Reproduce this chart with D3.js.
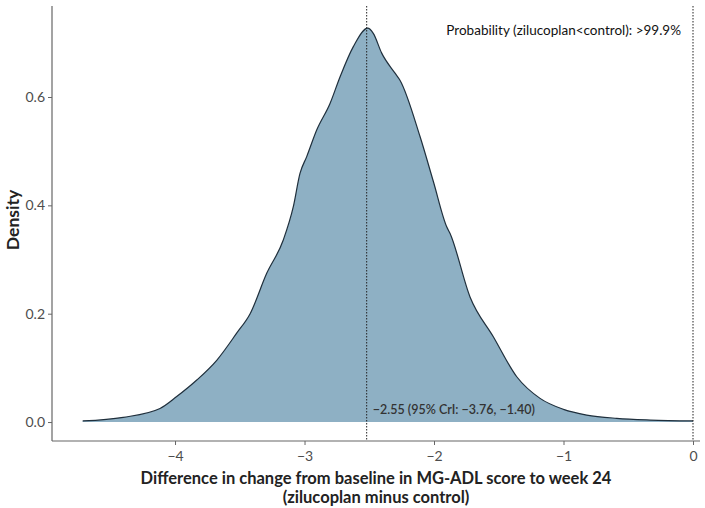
<!DOCTYPE html>
<html>
<head>
<meta charset="utf-8">
<script src="https://cdn.jsdelivr.net/npm/d3@7"></script>
<style>
  body { margin: 0; background: #fff; }
  text { font-family: Lato, "Open Sans", sans-serif; }
</style>
</head>
<body>
<svg width="705" height="508"></svg>
<script>
// density curve
const diffVals = [-4.713, -4.40, -4.116, -3.987, -3.832, -3.678, -3.524, -3.42, -3.292, -3.164, -3.087,
  -3.035, -2.983, -2.906, -2.803, -2.726, -2.623, -2.512, -2.469, -2.404, -2.301, -2.263, -2.108,
  -2.005, -1.902, -1.876, -1.722, -1.542, -1.361, -1.181, -1.0, -0.821, -0.589, -0.33, 0]
const densVals = [0.002, 0.0087, 0.025, 0.047, 0.0775, 0.114, 0.164, 0.2, 0.2745, 0.336, 0.397,
  0.459, 0.49, 0.539, 0.588, 0.637, 0.693, 0.727, 0.7175, 0.681, 0.644, 0.631, 0.527,
  0.444, 0.3605, 0.348, 0.231, 0.1575, 0.0836, 0.0437, 0.0234, 0.0129, 0.0068, 0.0037, 0.002]
const xTicks = [-4, -3, -2, -1, 0]
const yTicks = [0, 0.2, 0.4, 0.6]
const vLines = [-2.52, 0]
const medianLabel = "\u22122.55 (95% CrI: \u22123.76, \u22121.40)"
const probLabel = "Probability (zilucoplan<control): >99.9%"

const svg = d3.select("svg")
const pLeft = 52, pRight = 700, pTop = 6, pBottom = 441

const x = d3.scaleLinear().domain([-4.95, 0.054]).range([pLeft, pRight])
const y = d3.scaleLinear().domain([-0.035, 0.768]).range([pBottom, pTop])

const pts = diffVals.map((v, i) => ({ v, d: densVals[i] }))

// filled density
svg.append("path")
  .datum(pts)
  .attr("fill", "#8eb0c4")
  .attr("d", d3.area().x(d => x(d.v)).y0(y(0)).y1(d => y(d.d)).curve(d3.curveMonotoneX))
svg.append("path")
  .datum(pts)
  .attr("fill", "none")
  .attr("stroke", "#1f2f3c")
  .attr("stroke-width", 1.2)
  .attr("d", d3.line().x(d => x(d.v)).y(d => y(d.d)).curve(d3.curveMonotoneX))

// dotted reference lines
svg.selectAll(".vl").data(vLines).enter().append("line")
  .attr("x1", d => x(d)).attr("x2", d => x(d))
  .attr("y1", pTop).attr("y2", pBottom)
  .attr("stroke", "#222").attr("stroke-width", 1)
  .attr("stroke-dasharray", "1.5,1.5")

// axes
const xAxis = d3.axisBottom(x).tickValues(xTicks).tickSize(4).tickSizeOuter(0)
  .tickFormat(d => d === 0 ? "0" : String(d).replace("-", "\u2212"))
const gx = svg.append("g").attr("transform", `translate(0,${pBottom})`).call(xAxis)
const yAxis = d3.axisLeft(y).tickValues(yTicks).tickSize(4).tickSizeOuter(0).tickFormat(d3.format(".1f"))
const gy = svg.append("g").attr("transform", `translate(${pLeft},0)`).call(yAxis)

gx.select(".domain").attr("d", `M${pLeft},0H${pRight}`)
gy.select(".domain").attr("d", `M0,${pTop}V${pBottom}`)
;[gx, gy].forEach(g => {
  g.select(".domain").attr("stroke", "#666").attr("stroke-width", 1.2)
  g.selectAll(".tick line").attr("stroke", "#666")
  g.selectAll(".tick text").attr("fill", "#4d4d4d").style("font-size", "14px")
    .style("font-family", "Lato, sans-serif")
})
gx.selectAll(".tick text").attr("dy", "0.9em")

// annotations
svg.append("text")
  .attr("x", x(-2.52) + 6).attr("y", 414)
  .attr("fill", "#333").style("font-size", "12.5px").style("font-weight", "600")
  .text(medianLabel)
svg.append("text")
  .attr("x", 681).attr("y", 35).attr("text-anchor", "end")
  .attr("fill", "#111").style("font-size", "13.5px")
  .text(probLabel)

// axis titles
svg.append("text")
  .attr("transform", "translate(19,220) rotate(-90)")
  .attr("text-anchor", "middle")
  .attr("fill", "#222").style("font-size", "17.5px").style("font-weight", "bold")
  .text("Density")
const xt = svg.append("text")
  .attr("text-anchor", "middle").attr("fill", "#222")
  .style("font-size", "16.5px").style("font-weight", "bold")
xt.append("tspan").attr("x", 376).attr("y", 484).text("Difference in change from baseline in MG-ADL score to week 24")
xt.append("tspan").attr("x", 376).attr("y", 503).text("(zilucoplan minus control)")
</script>
</body>
</html>
